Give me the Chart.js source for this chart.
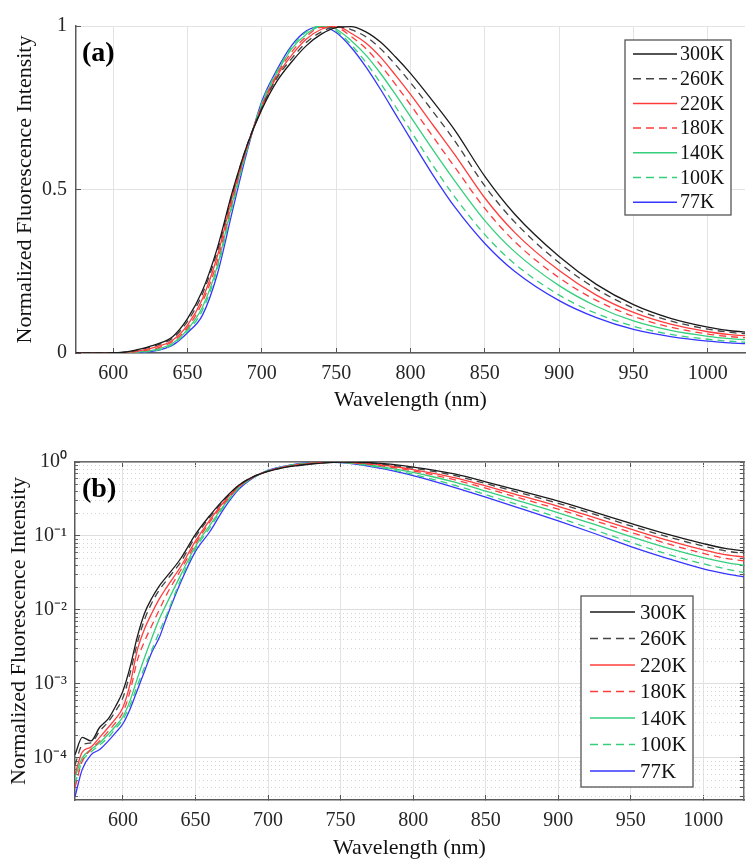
<!DOCTYPE html>
<html>
<head>
<meta charset="utf-8">
<script src="https://cdn.jsdelivr.net/npm/chart.js@4.4.0/dist/chart.umd.min.js"></script>
<style>
  body { margin: 0; background: #fff; }
  #wrapA { position: absolute; left: 0; top: 0; width: 754px; height: 420px; }
  #wrapB { position: absolute; left: 0; top: 420px; width: 754px; height: 448px; }
</style>
</head>
<body>
<div id="wrapA"><canvas id="chartA"></canvas></div>
<div id="wrapB"><canvas id="chartB"></canvas></div>
<script>
// wavelength grid (nm) and normalized spectra
const wavelength = [567, 572, 578, 584, 590, 595, 600, 605, 610, 615, 620, 625, 630, 640, 650,
  660, 670, 680, 690, 700, 710, 720, 730, 740, 750, 760, 770, 780, 790, 800,
  815, 830, 850, 870, 900, 925, 950, 975, 1000, 1015, 1028];

const int300K = [1.1e-4, 1.9e-4, 1.7e-4, 2.6e-4, 3.4e-4, 5.0e-4, 8.0e-4, 1.7e-3, 4.4e-3, 9.1e-3, 1.45e-2, 2.1e-2, 2.8e-2, 5.0e-2, 0.105,
  0.19, 0.32, 0.49, 0.635, 0.745, 0.83, 0.89, 0.94, 0.975, 0.995, 0.998, 0.982, 0.950, 0.905, 0.855,
  0.770, 0.680, 0.540, 0.425, 0.295, 0.210, 0.148, 0.106, 0.079, 0.068, 0.063];
const int260K = [8e-5, 1.5e-4, 1.6e-4, 2.3e-4, 3.1e-4, 4.3e-4, 6.5e-4, 1.4e-3, 3.6e-3, 7.5e-3, 1.25e-2, 1.85e-2, 2.5e-2, 4.5e-2, 0.097,
  0.18, 0.31, 0.485, 0.635, 0.75, 0.84, 0.90, 0.95, 0.982, 0.998, 0.989, 0.967, 0.930, 0.881, 0.827,
  0.739, 0.647, 0.511, 0.401, 0.276, 0.196, 0.137, 0.098, 0.073, 0.063, 0.058];
const int220K = [6e-5, 1.2e-4, 1.4e-4, 1.9e-4, 2.6e-4, 3.4e-4, 4.8e-4, 1.0e-3, 2.9e-3, 5.6e-3, 9.1e-3, 1.4e-2, 2.0e-2, 3.9e-2, 0.085,
  0.165, 0.295, 0.475, 0.63, 0.75, 0.845, 0.91, 0.96, 0.99, 1.0, 0.978, 0.948, 0.904, 0.849, 0.791,
  0.698, 0.605, 0.474, 0.369, 0.252, 0.177, 0.124, 0.088, 0.065, 0.056, 0.052];
const int180K = [4e-5, 9e-5, 1.3e-4, 1.7e-4, 2.3e-4, 3.0e-4, 4.1e-4, 8e-4, 2.1e-3, 3.8e-3, 6.2e-3, 1.0e-2, 1.6e-2, 3.5e-2, 0.078,
  0.155, 0.28, 0.465, 0.63, 0.755, 0.85, 0.92, 0.968, 0.996, 0.995, 0.968, 0.931, 0.880, 0.821, 0.759,
  0.662, 0.567, 0.442, 0.341, 0.230, 0.161, 0.112, 0.079, 0.058, 0.050, 0.046];
const int140K = [5.5e-5, 1.0e-4, 1.3e-4, 1.6e-4, 2.1e-4, 2.7e-4, 3.6e-4, 6e-4, 1.2e-3, 2.3e-3, 4.2e-3, 7.5e-3, 1.2e-2, 3.0e-2, 0.072,
  0.14, 0.265, 0.455, 0.625, 0.76, 0.855, 0.93, 0.975, 0.999, 0.99, 0.956, 0.911, 0.854, 0.790, 0.723,
  0.622, 0.525, 0.405, 0.310, 0.206, 0.143, 0.098, 0.069, 0.051, 0.044, 0.040];
const int100K = [4.5e-5, 9e-5, 1.2e-4, 1.5e-4, 1.9e-4, 2.5e-4, 3.3e-4, 5.2e-4, 9.5e-4, 1.7e-3, 2.9e-3, 5.0e-3, 8.5e-3, 2.6e-2, 0.067,
  0.13, 0.255, 0.445, 0.62, 0.765, 0.86, 0.935, 0.982, 1.0, 0.985, 0.943, 0.889, 0.824, 0.753, 0.681,
  0.574, 0.476, 0.362, 0.273, 0.177, 0.121, 0.082, 0.057, 0.042, 0.036, 0.032];
const int77K = [3e-5, 7e-5, 1.1e-4, 1.3e-4, 1.7e-4, 2.2e-4, 2.9e-4, 4.6e-4, 8.3e-4, 1.5e-3, 2.7e-3, 4.2e-3, 7.8e-3, 2.4e-2, 0.062,
  0.115, 0.24, 0.43, 0.615, 0.77, 0.865, 0.94, 0.985, 0.998, 0.98, 0.935, 0.875, 0.805, 0.730, 0.655,
  0.545, 0.445, 0.335, 0.250, 0.160, 0.108, 0.072, 0.050, 0.036, 0.031, 0.028];

const seriesLabels = ['300K', '260K', '220K', '180K', '140K', '100K', '77K'];
const seriesValues = [int300K, int260K, int220K, int180K, int140K, int100K, int77K];
const seriesColors = ['#1a1a1a', '#444444', '#ff3c3c', '#ff3c3c', '#35cf7c', '#35cf7c', '#3535ff'];
const seriesDashed = [false, true, false, true, false, true, false];

const xTicks = [600, 650, 700, 750, 800, 850, 900, 950, 1000];
const linTicks = [0, 0.5, 1];
const logTicks = [1e-4, 1e-3, 1e-2, 1e-1, 1];

const FONT = "'Liberation Serif', 'Times New Roman', serif";
const LOG_MIN = 2.7e-5;

// minor log grid: 2..9 x each decade
function minorLogTicks() {
  const out = [];
  [1e-5, 1e-4, 1e-3, 1e-2, 1e-1].forEach(d => {
    for (let m = 2; m <= 9; m++) {
      const v = d * m;
      if (v >= LOG_MIN && v <= 1) out.push({ value: v });
    }
  });
  return out;
}

function makeDatasets() {
  return seriesValues.map((vals, k) => ({
    label: seriesLabels[k],
    data: wavelength.map((w, i) => ({ x: w, y: vals[i] })),
    borderColor: seriesColors[k],
    borderDash: seriesDashed[k] ? [7, 5] : [],
    borderWidth: 1.3,
    pointRadius: 0,
    cubicInterpolationMode: 'monotone',
    fill: false
  }));
}

const supMap = { '-': '\u207B', '0': '\u2070', '1': '\u00B9', '2': '\u00B2', '3': '\u00B3', '4': '\u2074', '5': '\u2075' };
function logLabel(v) {
  const e = Math.round(Math.log10(v));
  return '10' + String(e).split('').map(c => supMap[c]).join('');
}

// boxed legend drawn inside the plot
const boxLegend = {
  id: 'boxLegend',
  afterDraw(chart, args, o) {
    const ctx = chart.ctx, a = chart.chartArea;
    const x0 = a.left + o.x, y0 = a.top + o.y;
    ctx.save();
    ctx.fillStyle = '#fff';
    ctx.fillRect(x0, y0, o.w, o.h);
    ctx.strokeStyle = '#555';
    ctx.lineWidth = 1.3;
    ctx.strokeRect(x0, y0, o.w, o.h);
    ctx.font = o.font + 'px ' + FONT;
    ctx.textBaseline = 'middle';
    ctx.fillStyle = '#111';
    chart.data.datasets.forEach((ds, i) => {
      const y = y0 + o.first + i * o.step;
      ctx.strokeStyle = ds.borderColor;
      ctx.lineWidth = 1.5;
      ctx.setLineDash(ds.borderDash.length ? [8, 5] : []);
      ctx.beginPath();
      ctx.moveTo(x0 + o.lineX0, y);
      ctx.lineTo(x0 + o.lineX1, y);
      ctx.stroke();
      ctx.setLineDash([]);
      ctx.fillText(ds.label, x0 + o.textX, y + 1);
    });
    ctx.restore();
  }
};

const panelTag = {
  id: 'panelTag',
  afterDatasetsDraw(chart, args, o) {
    const ctx = chart.ctx, a = chart.chartArea;
    ctx.save();
    ctx.font = 'bold ' + o.size + 'px ' + FONT;
    ctx.fillStyle = '#000';
    ctx.textBaseline = 'alphabetic';
    ctx.fillText(o.text, a.left + o.x, a.top + o.y);
    ctx.restore();
  }
};

function xAxis(min, max, height) {
  return {
    type: 'linear', min: min, max: max,
    afterBuildTicks: s => { s.ticks = xTicks.map(v => ({ value: v })); },
    afterFit: s => { s.height = height; },
    grid: { color: '#e3e3e3', lineWidth: 1, tickLength: -5, tickColor: '#555', tickWidth: 1 },
    border: { color: '#5a5a5a', width: 1.5 },
    ticks: { padding: 14, maxRotation: 0, color: '#262626', font: { family: FONT, size: 20 }, callback: v => String(v) },
    title: { display: true, text: 'Wavelength (nm)', color: '#111', font: { family: FONT, size: 22 }, padding: { top: 0, bottom: 7 } }
  };
}

const baseOpts = {
  responsive: true,
  maintainAspectRatio: false,
  animation: false,
  devicePixelRatio: 1,
  events: []
};

// (a) linear intensity
new Chart(document.getElementById('chartA'), {
  type: 'line',
  data: { datasets: makeDatasets() },
  options: Object.assign({}, baseOpts, {
    layout: { padding: { top: 14, right: 9, left: 0, bottom: 0 } },
    plugins: {
      legend: { display: false },
      tooltip: { enabled: false },
      boxLegend: { x: 549, y: 14, w: 106, h: 175, first: 14, step: 24.7, lineX0: 8, lineX1: 52, textX: 55, font: 20 },
      panelTag: { text: '(a)', x: 6, y: 35, size: 28 }
    },
    scales: {
      x: xAxis(575, 1025, 67),
      y: {
        type: 'linear', min: 0, max: 1,
        afterBuildTicks: s => { s.ticks = linTicks.map(v => ({ value: v })); },
        afterFit: s => { s.width = 76; },
        grid: { color: '#e3e3e3', tickLength: -5, tickColor: '#555', tickWidth: 1 },
        border: { color: '#5a5a5a', width: 1.5 },
        ticks: { padding: 14, color: '#262626', font: { family: FONT, size: 20 }, callback: v => String(v) },
        title: { display: true, text: 'Normalized Fluorescence Intensity', color: '#111', font: { family: FONT, size: 22 }, padding: { top: 12, bottom: 0 } }
      }
    }
  }),
  plugins: [panelTag, boxLegend]
});

// (b) log intensity
new Chart(document.getElementById('chartB'), {
  type: 'line',
  data: { datasets: makeDatasets() },
  options: Object.assign({}, baseOpts, {
    layout: { padding: { top: 42, right: 10, left: 0, bottom: 0 } },
    plugins: {
      legend: { display: false },
      tooltip: { enabled: false },
      boxLegend: { x: 506, y: 134, w: 112, h: 191, first: 16, step: 26.5, lineX0: 9, lineX1: 54, textX: 59, font: 21 },
      panelTag: { text: '(b)', x: 7, y: 35, size: 28 }
    },
    scales: {
      x: xAxis(567, 1028, 68),
      xTop: {
        type: 'linear', position: 'top', min: 567, max: 1028,
        afterBuildTicks: s => { s.ticks = xTicks.map(v => ({ value: v })); },
        afterFit: s => { s.height = 0; },
        grid: { drawOnChartArea: false, tickLength: -5, tickColor: '#555', tickWidth: 1 },
        border: { color: '#6a6a6a', width: 1.5 },
        ticks: { display: false }
      },
      y: {
        type: 'logarithmic', min: LOG_MIN, max: 1,
        afterBuildTicks: s => { s.ticks = logTicks.map(v => ({ value: v, major: true })); },
        afterFit: s => { s.width = 75; },
        grid: { color: '#dedede', tickLength: -5, tickColor: '#555', tickWidth: 1 },
        border: { color: '#5a5a5a', width: 1.5 },
        ticks: { padding: 13, color: '#262626', font: { family: FONT, size: 20 }, callback: v => logLabel(v) },
        title: { display: true, text: 'Normalized Fluorescence Intensity', color: '#111', font: { family: FONT, size: 22 }, padding: { top: 6, bottom: 0 } }
      },
      yMinor: {
        type: 'logarithmic', position: 'left', weight: -1, min: LOG_MIN, max: 1,
        afterBuildTicks: s => { s.ticks = minorLogTicks(); },
        afterFit: s => { s.width = 0; },
        grid: { color: '#d6d6d6', tickLength: -3, tickColor: '#666', tickWidth: 1 },
        border: { display: false, dash: [1, 3] },
        ticks: { display: false }
      },
      yRight: {
        type: 'logarithmic', position: 'right', min: LOG_MIN, max: 1,
        afterBuildTicks: s => { s.ticks = logTicks.map(v => ({ value: v })).concat(minorLogTicks()); },
        afterFit: s => { s.width = 0; },
        grid: { drawOnChartArea: false, tickLength: -4, tickColor: '#555', tickWidth: 1 },
        border: { color: '#6a6a6a', width: 1.5 },
        ticks: { display: false }
      }
    }
  }),
  plugins: [panelTag, boxLegend]
});
</script>
</body>
</html>
